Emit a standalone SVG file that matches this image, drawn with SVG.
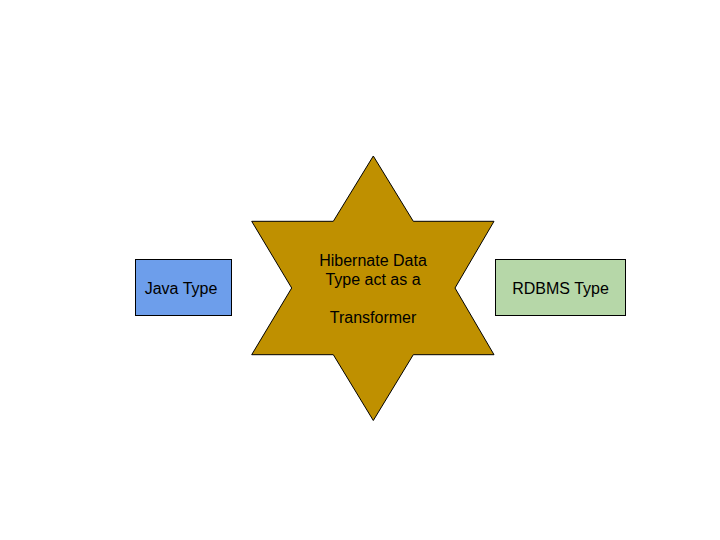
<svg xmlns="http://www.w3.org/2000/svg" width="720" height="540" viewBox="0 0 720 540">
<style>
.t{font-family:"Liberation Sans",Arial,sans-serif;font-size:16px;fill:#000;text-anchor:middle}
.s{stroke:#000;stroke-width:1}
</style>
<rect width="720" height="540" fill="#fff"/>
<g id="connectors"></g>
<g id="java">
<rect class="s" x="135.5" y="259.5" width="96" height="56" fill="#6d9eeb"/>
<text class="t" x="181" y="293.5">Java Type</text>
</g>
<g id="transformer">
<polygon class="s" fill="#bf9000" points="373.3,156 413.3,221.3 494,221.3 455,288 494,354.7 413.3,354.7 373.3,420.5 333.3,354.7 251.7,354.7 291.7,288 251.7,221.3 333.3,221.3"/>
<text class="t" x="373" y="266">Hibernate Data</text>
<text class="t" x="373" y="285">Type act as a</text>
<text class="t" x="373" y="323">Transformer</text>
</g>
<g id="rdbms">
<rect class="s" x="495.5" y="259.5" width="130" height="56" fill="#b6d7a8"/>
<text class="t" x="560.5" y="293.5">RDBMS Type</text>
</g>
</svg>
